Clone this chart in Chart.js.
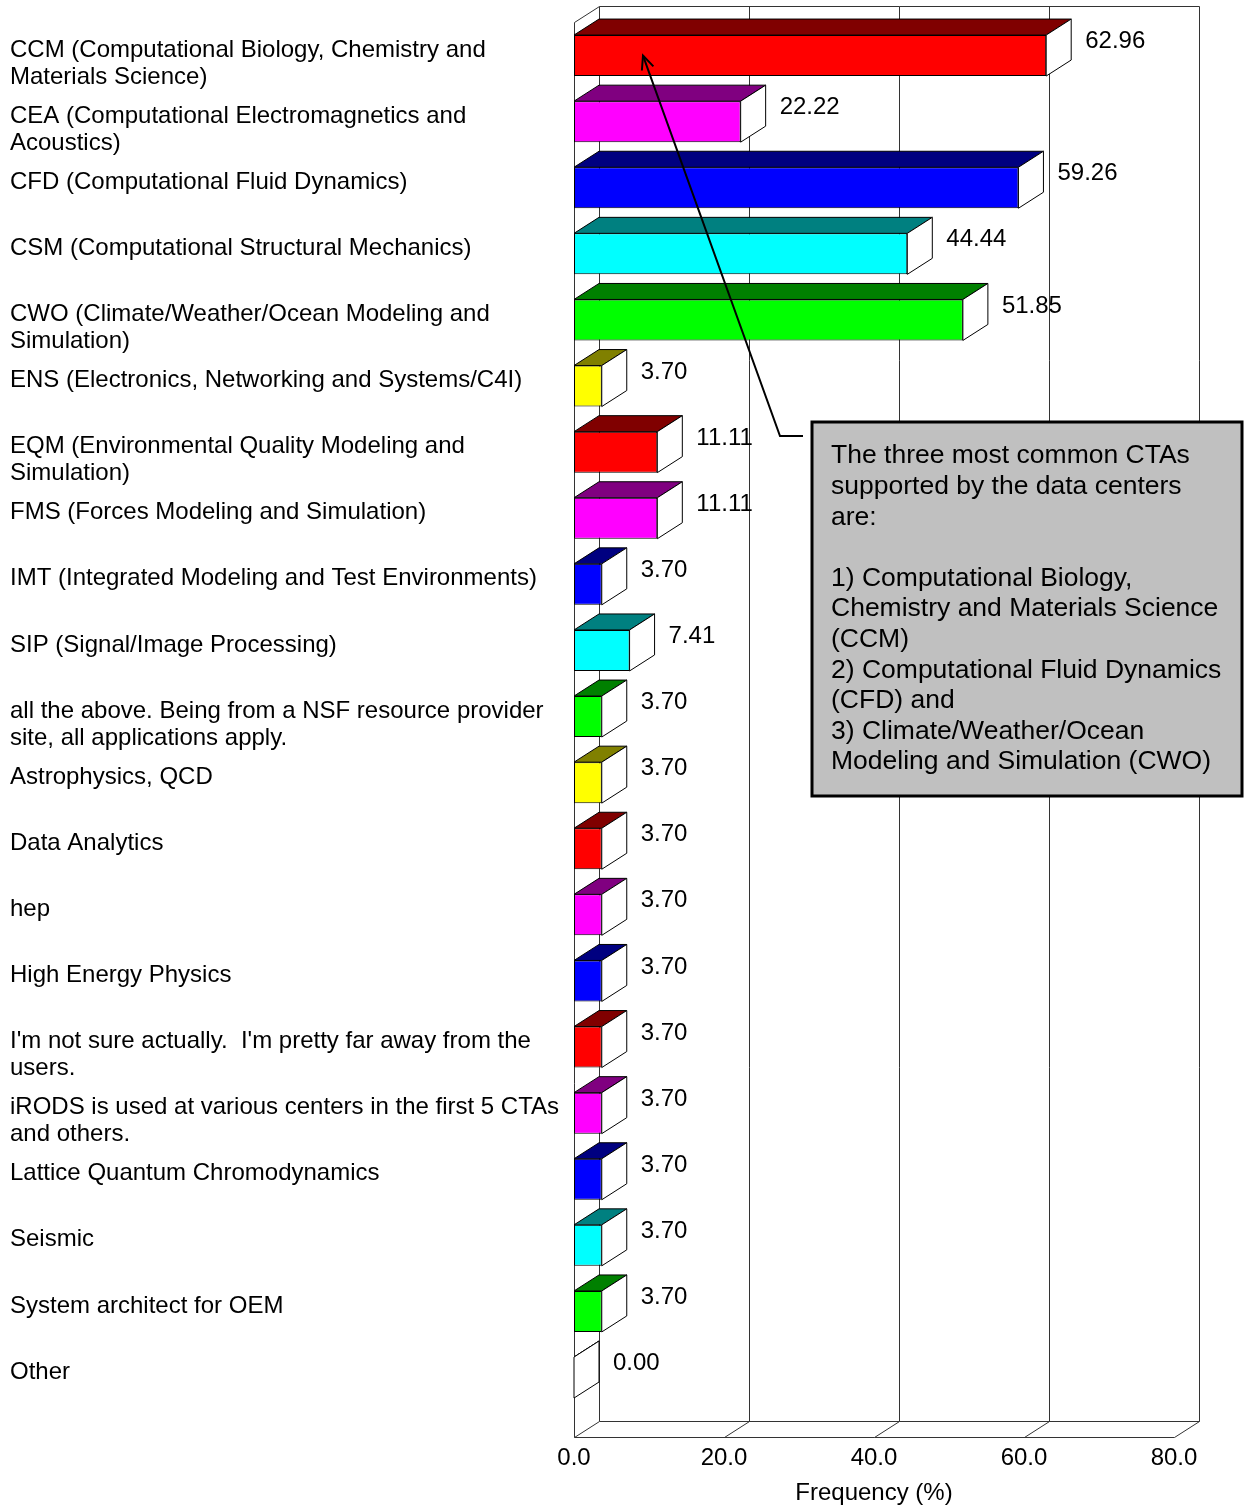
<!DOCTYPE html>
<html><head><meta charset="utf-8">
<script src="https://cdn.jsdelivr.net/npm/chart.js@4.4.1/dist/chart.umd.min.js"></script>
<style>html,body{margin:0;padding:0;background:#fff;}#wrap{width:1244px;height:1508px;}</style>
</head><body><div id="wrap"><canvas id="c" width="1244" height="1508"></canvas></div>
<script>
// ---- data ----
const categories = [
  ["CCM (Computational Biology, Chemistry and", "Materials Science)"],
  ["CEA (Computational Electromagnetics and", "Acoustics)"],
  ["CFD (Computational Fluid Dynamics)"],
  ["CSM (Computational Structural Mechanics)"],
  ["CWO (Climate/Weather/Ocean Modeling and", "Simulation)"],
  ["ENS (Electronics, Networking and Systems/C4I)"],
  ["EQM (Environmental Quality Modeling and", "Simulation)"],
  ["FMS (Forces Modeling and Simulation)"],
  ["IMT (Integrated Modeling and Test Environments)"],
  ["SIP (Signal/Image Processing)"],
  ["all the above. Being from a NSF resource provider", "site, all applications apply."],
  ["Astrophysics, QCD"],
  ["Data Analytics"],
  ["hep"],
  ["High Energy Physics"],
  ["I'm not sure actually.  I'm pretty far away from the", "users."],
  ["iRODS is used at various centers in the first 5 CTAs", "and others."],
  ["Lattice Quantum Chromodynamics"],
  ["Seismic"],
  ["System architect for OEM"],
  ["Other"]
];
const values = [62.96, 22.22, 59.26, 44.44, 51.85, 3.70, 11.11, 11.11, 3.70, 7.41, 3.70, 3.70, 3.70, 3.70, 3.70, 3.70, 3.70, 3.70, 3.70, 3.70, 0.00];
const xTicks = [0, 20, 40, 60, 80];
const xTitle = "Frequency (%)";
const noteLines = [
  "The three most common CTAs",
  "supported by the data centers",
  "are:",
  "",
  "1) Computational Biology,",
  "Chemistry and Materials Science",
  "(CCM)",
  "2) Computational Fluid Dynamics",
  "(CFD) and",
  "3) Climate/Weather/Ocean",
  "Modeling and Simulation (CWO)"
];
const noteTarget = { category: 0, value: 9.2 };

// ---- styles ----
const frontColors = ["#FF0000","#FF00FF","#0000FF","#00FFFF","#00FF00","#FFFF00","#FF0000","#FF00FF","#0000FF","#00FFFF","#00FF00","#FFFF00","#FF0000","#FF00FF","#0000FF","#FF0000","#FF00FF","#0000FF","#00FFFF","#00FF00","#FFFFFF"];
const topColors   = ["#800000","#800080","#000080","#008080","#008000","#808000","#800000","#800080","#000080","#008080","#008000","#808000","#800000","#800080","#000080","#800000","#800080","#000080","#008080","#008000","#FFFFFF"];
const FONT = "'Liberation Sans', Arial, Helvetica, sans-serif";
const DX = 25, DY = 16, FLOOR_GAP = 26.5;

function poly(ctx, pts, fill) {
  ctx.beginPath();
  ctx.moveTo(pts[0][0], pts[0][1]);
  for (let k = 1; k < pts.length; k++) ctx.lineTo(pts[k][0], pts[k][1]);
  ctx.closePath();
  ctx.fillStyle = fill; ctx.fill();
  ctx.strokeStyle = "#000"; ctx.lineWidth = 1; ctx.stroke();
}
function line(ctx, x1, y1, x2, y2) {
  ctx.beginPath(); ctx.moveTo(x1, y1); ctx.lineTo(x2, y2); ctx.stroke();
}

const frame3d = {
  id: "frame3d",
  beforeDatasetsDraw(chart) {
    const ctx = chart.ctx, xs = chart.scales.x, ca = chart.chartArea;
    const fTop = Math.round(ca.top) - 0.5, fBot = Math.round(ca.bottom + FLOOR_GAP) + 0.5;
    const p = v => Math.round(xs.getPixelForValue(v)) + 0.5;
    const x0 = p(xTicks[0]), x1 = p(xTicks[xTicks.length - 1]);
    ctx.save();
    ctx.strokeStyle = "#333"; ctx.lineWidth = 1;
    line(ctx, x0 + DX, fTop - DY, x1 + DX, fTop - DY);
    xTicks.forEach(v => line(ctx, p(v) + DX, fTop - DY, p(v) + DX, fBot - DY));
    line(ctx, x0, fBot, x1, fBot);
    line(ctx, x0 + DX, fBot - DY, x1 + DX, fBot - DY);
    xTicks.forEach(v => line(ctx, p(v), fBot, p(v) + DX, fBot - DY));
    line(ctx, x0, fTop, x0, fBot);
    line(ctx, x0, fTop, x0 + DX, fTop - DY);
    ctx.restore();
  },
  afterDatasetsDraw(chart) {
    const ctx = chart.ctx;
    const meta = chart.getDatasetMeta(0);
    ctx.save();
    meta.data.forEach((bar, i) => {
      const { x, y, base, height } = bar.getProps(["x", "y", "base", "height"], true);
      const t = y - height / 2, b = y + height / 2;
      const L = Math.min(base, x), R = Math.max(base, x);
      poly(ctx, [[L, t], [R, t], [R + DX, t - DY], [L + DX, t - DY]], topColors[i]);
      poly(ctx, [[R, t], [R + DX, t - DY], [R + DX, b - DY], [R, b]], "#FFFFFF");
      ctx.fillStyle = "#000";
      ctx.font = "24px " + FONT;
      ctx.textAlign = "left"; ctx.textBaseline = "middle";
      ctx.fillText(values[i].toFixed(2), R + DX + 14, y - DY + 2);
    });
    ctx.restore();
  },
  afterDraw(chart) {
    const ctx = chart.ctx;
    const xs = chart.scales.x, ys = chart.scales.y;
    const tipX = xs.getPixelForValue(noteTarget.value);
    const tipY = ys.getPixelForValue(noteTarget.category);
    const box = { x: 812, y: 422, w: 430, h: 374 };
    const elbow = [780, 436];
    ctx.save();
    ctx.strokeStyle = "#000"; ctx.lineWidth = 2;
    ctx.beginPath();
    ctx.moveTo(box.x - 9, elbow[1]);
    ctx.lineTo(elbow[0], elbow[1]);
    ctx.lineTo(tipX, tipY);
    ctx.stroke();
    const ang = Math.atan2(tipY - elbow[1], tipX - elbow[0]);
    const hl = 15, ha = 0.42;
    ctx.beginPath();
    ctx.moveTo(tipX - hl * Math.cos(ang - ha), tipY - hl * Math.sin(ang - ha));
    ctx.lineTo(tipX, tipY);
    ctx.lineTo(tipX - hl * Math.cos(ang + ha), tipY - hl * Math.sin(ang + ha));
    ctx.stroke();
    ctx.fillStyle = "#C0C0C0";
    ctx.fillRect(box.x, box.y, box.w, box.h);
    ctx.lineWidth = 3; ctx.strokeStyle = "#000";
    ctx.strokeRect(box.x, box.y, box.w, box.h);
    ctx.fillStyle = "#000";
    ctx.font = "26.5px " + FONT;
    ctx.textAlign = "left"; ctx.textBaseline = "middle";
    noteLines.forEach((s, k) => ctx.fillText(s, box.x + 19, box.y + 34 + k * 30.6));
    ctx.restore();
  }
};

new Chart(document.getElementById("c"), {
  type: "bar",
  data: {
    labels: categories.map(c => c.join(" ")),
    datasets: [{
      data: values,
      backgroundColor: frontColors,
      borderColor: "#000",
      borderWidth: 1,
      borderSkipped: false,
      barPercentage: 0.62,
      categoryPercentage: 1.0
    }]
  },
  options: {
    indexAxis: "y",
    responsive: false,
    animation: false,
    devicePixelRatio: 1,
    layout: { padding: { top: 22.5, right: 70, left: 10, bottom: 0 } },
    plugins: { legend: { display: false }, tooltip: { enabled: false } },
    scales: {
      x: {
        type: "linear", min: 0, max: 80, position: "bottom",
        afterBuildTicks: s => { s.ticks = xTicks.map(v => ({ value: v })); },
        afterFit: s => { s.height = 97.4; s.paddingLeft = 0; s.paddingRight = 0; },
        grid: { display: false, drawTicks: false },
        border: { display: false },
        ticks: { font: { size: 24, family: FONT }, color: "#000", padding: 33, maxRotation: 0,
                 callback: v => Number(v).toFixed(1) },
        title: { display: true, text: xTitle, color: "#000", font: { size: 24, family: FONT }, padding: { top: 0, bottom: 0 } }
      },
      y: {
        type: "category",
        afterFit: s => { s.width = 564; s.paddingTop = 0; s.paddingBottom = 0; },
        grid: { display: false, drawTicks: false },
        border: { display: false },
        ticks: {
          font: { size: 24, family: FONT, lineHeight: 1.125 }, color: "#000",
          crossAlign: "far", labelOffset: 8, autoSkip: false,
          callback: (v, i) => categories[i].length === 1 ? [categories[i][0], ""] : categories[i]
        }
      }
    }
  },
  plugins: [frame3d]
});
</script>
</body></html>
